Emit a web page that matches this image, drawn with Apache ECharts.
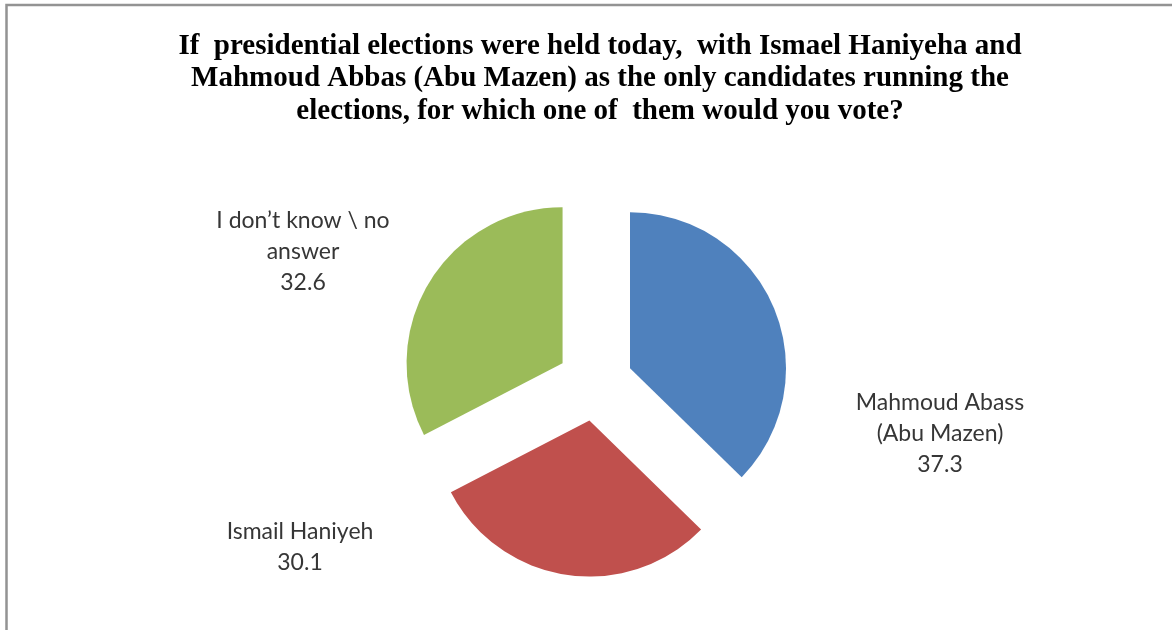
<!DOCTYPE html>
<html>
<head>
<meta charset="utf-8">
<script src="https://cdn.jsdelivr.net/npm/echarts@6/dist/echarts.min.js"></script>
<style>
html,body{margin:0;padding:0;background:#fff;}
#chart{width:1172px;height:630px;}
</style>
</head>
<body>
<div id="chart"></div>
<script>
// ---- data ----
const categories = ['Mahmoud Abass\n(Abu Mazen)', 'Ismail Haniyeh', 'I don\u2019t know \\ no\nanswer'];
const values = [37.3, 30.1, 32.6];
const titleText = 'If  presidential elections were held today,  with Ismael Haniyeha and\nMahmoud Abbas (Abu Mazen) as the only candidates running the\nelections, for which one of  them would you vote?';

// ---- styles / layout ----
const colors = ['#4F81BD', '#C0504D', '#9BBB59'];
const labelPos = [[940, 434], [300, 547], [303, 252]];
const pieCenter = [595, 383];
const pieRadius = 156;

const chart = echarts.init(document.getElementById('chart'), null, {renderer: 'canvas'});
chart.setOption({
  animation: false,
  backgroundColor: '#ffffff',
  title: {
    text: titleText,
    left: 595,
    textAlign: 'center',
    top: 25,
    textStyle: {
      fontFamily: 'Liberation Serif',
      fontWeight: 'bold',
      fontSize: 29,
      lineHeight: 32.5,
      color: '#000000'
    }
  },
  graphic: [{
    type: 'polyline',
    silent: true,
    shape: {points: [[6.5, 630], [6.5, 5], [1172, 5]]},
    style: {stroke: '#939393', lineWidth: 2.5, fill: null}
  }],
  series: [{
    // exploded slices
    type: 'pie',
    center: pieCenter,
    radius: pieRadius,
    startAngle: 90,
    clockwise: true,
    selectedMode: 'multiple',
    selectedOffset: 38,
    emphasis: {disabled: true},
    select: {itemStyle: {borderWidth: 0}},
    label: {show: false},
    labelLine: {show: false},
    data: values.map((v, i) => ({
      name: categories[i],
      value: v,
      selected: true,
      itemStyle: {color: colors[i], borderWidth: 0},
      select: {itemStyle: {color: colors[i], borderWidth: 0}}
    }))
  }, {
    // data labels (same data, invisible sectors)
    type: 'pie',
    center: pieCenter,
    radius: pieRadius,
    startAngle: 90,
    clockwise: true,
    silent: true,
    selectedMode: false,
    emphasis: {disabled: true},
    avoidLabelOverlap: false,
    itemStyle: {color: 'rgba(0,0,0,0)', borderWidth: 0},
    labelLine: {show: false},
    label: {
      show: true,
      position: 'outside',
      formatter: '{b}\n{c}',
      fontFamily: 'Lato',
      fontSize: 23,
      lineHeight: 31,
      color: '#363636',
      align: 'center'
    },
    labelLayout: function (p) {
      const pos = labelPos[p.dataIndex];
      return {x: pos[0], y: pos[1], align: 'center', verticalAlign: 'middle'};
    },
    data: values.map((v, i) => ({name: categories[i], value: v}))
  }]
});
</script>
</body>
</html>
